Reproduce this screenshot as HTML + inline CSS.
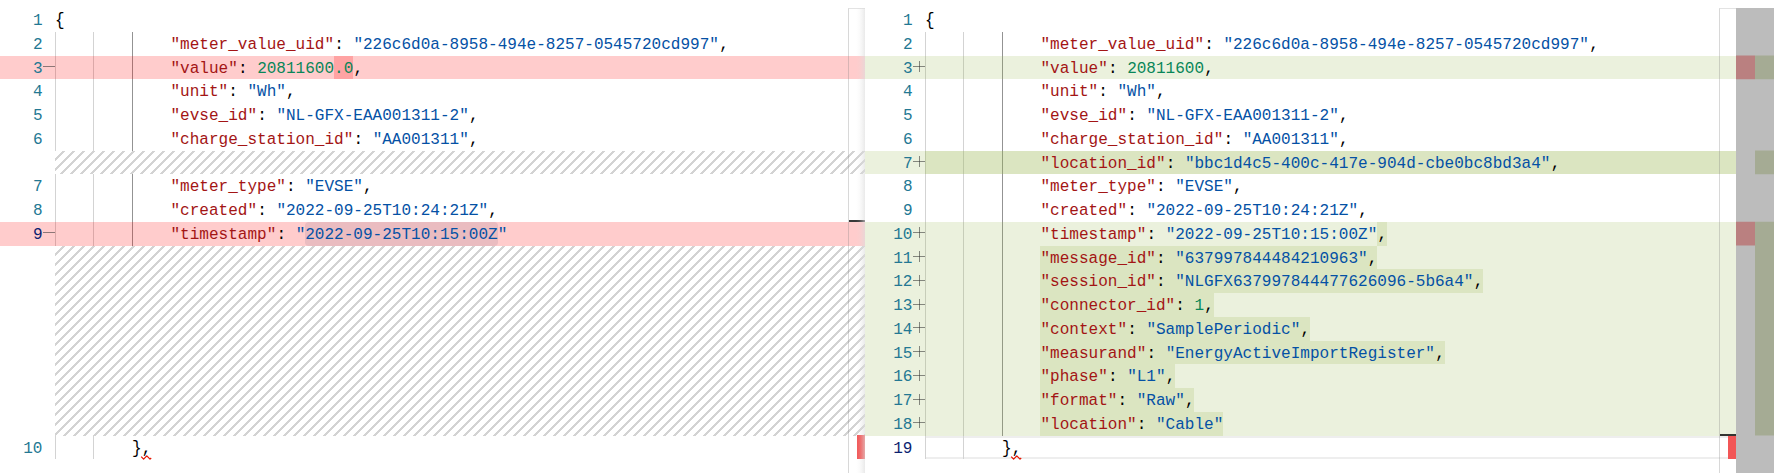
<!DOCTYPE html>
<html lang="en">
<head>
<meta charset="utf-8">
<title>Diff: meter value JSON</title>
<style>
html,body{margin:0;padding:0;background:#fff;}
body{width:1788px;height:473px;overflow:hidden;position:relative;font-family:"Liberation Mono","DejaVu Sans Mono",monospace;font-size:16.04px;line-height:23.75px;color:#000;}
.pane{position:absolute;top:0;height:473px;overflow:hidden;}
.bg{position:absolute;left:0;right:0;height:23.75px;}
.bg.del,.cdel{background:rgba(255,0,0,.2);}
.bg.ins,.cins{background:rgba(155,185,85,.2);}
.hatch{position:absolute;display:block;}
.cdel,.cins,.sel{position:absolute;height:23.75px;}
.sel{background:#e5ebf1;border-radius:4px;}
.guide{position:absolute;width:1px;height:23.75px;background:#d3d3d3;}
.guide.act{background:#939393;}
.ln{position:absolute;left:0;width:42.5px;text-align:right;color:#237893;height:23.75px;white-space:pre;margin-top:2px;transform-origin:0 15px;transform:scaleY(1.06);}
.ln.cur{color:#0b216f;}
.sign{position:absolute;left:43px;width:12px;height:23.75px;}
.sign .h{position:absolute;left:0;top:10.5px;width:12px;height:1px;background:rgba(50,50,50,.56);}
.sign .v{position:absolute;left:5.5px;top:5.5px;width:1px;height:11px;background:rgba(50,50,50,.56);}
.t{position:absolute;white-space:pre;height:23.75px;margin-top:2px;transform-origin:0 15px;transform:scaleY(1.06);}
.ovl,.ovr{position:absolute;top:8px;width:17px;height:465px;box-sizing:border-box;border-left:1px solid rgba(127,127,127,.3);border-top:1px solid rgba(127,127,127,.22);}
.ovl{left:848px;}
.ovr{left:1719px;}
.shadow{position:absolute;left:856px;top:8px;width:9px;height:465px;background:linear-gradient(90deg,rgba(221,221,221,0),rgba(221,221,221,.1) 35%,rgba(221,221,221,.3) 65%,rgba(221,221,221,.62));}
.cursor{position:absolute;height:2px;background:rgba(0,0,0,.78);}
.err{position:absolute;width:8px;height:24px;background:#f25656;}
.dov{position:absolute;display:block;left:1736px;top:8px;width:38px;height:465px;background:#bcbcbc;}
.dov .r{fill:#ba8080;}
.dov .g{fill:#a5ab94;}
.curline{position:absolute;box-sizing:border-box;border-top:2.5px solid #eee;border-bottom:2.5px solid #eee;}
.sq{position:absolute;overflow:visible;}
.t.b{transform-origin:0 10.5px;transform:translateY(-.8px) scaleY(1.2);}
.k{color:#a31515;}
.s{color:#0451a5;}
.n{color:#098658;}
.p{color:#000;}
</style>
</head>
<body>
<div class="pane left" style="left:0;width:865px">
<div class="sel" style="left:305.25px;top:221.75px;width:192.5px;"></div>
<div class="guide" style="left:55px;top:31.75px"></div>
<div class="guide" style="left:93px;top:31.75px"></div>
<div class="guide act" style="left:132px;top:31.75px"></div>
<div class="guide" style="left:55px;top:55.5px"></div>
<div class="guide" style="left:93px;top:55.5px"></div>
<div class="guide act" style="left:132px;top:55.5px"></div>
<div class="guide" style="left:55px;top:79.25px"></div>
<div class="guide" style="left:93px;top:79.25px"></div>
<div class="guide act" style="left:132px;top:79.25px"></div>
<div class="guide" style="left:55px;top:103px"></div>
<div class="guide" style="left:93px;top:103px"></div>
<div class="guide act" style="left:132px;top:103px"></div>
<div class="guide" style="left:55px;top:126.75px"></div>
<div class="guide" style="left:93px;top:126.75px"></div>
<div class="guide act" style="left:132px;top:126.75px"></div>
<div class="guide" style="left:55px;top:174.25px"></div>
<div class="guide" style="left:93px;top:174.25px"></div>
<div class="guide act" style="left:132px;top:174.25px"></div>
<div class="guide" style="left:55px;top:198px"></div>
<div class="guide" style="left:93px;top:198px"></div>
<div class="guide act" style="left:132px;top:198px"></div>
<div class="guide" style="left:55px;top:221.75px"></div>
<div class="guide" style="left:93px;top:221.75px"></div>
<div class="guide act" style="left:132px;top:221.75px"></div>
<div class="guide" style="left:55px;top:435.5px"></div>
<div class="guide" style="left:93px;top:435.5px"></div>
<div class="bg del" style="top:55.5px"></div>
<div class="bg del" style="top:221.75px"></div>
<div class="cdel" style="left:334.125px;top:55.5px;width:19.25px;"></div>
<svg class="hatch" style="left:55px;top:151px" width="810" height="23"><defs><pattern id="hpl6" width="10" height="10" patternUnits="userSpaceOnUse"><path d="M-1.25 10L10 -1.25M3.75 15L15 3.75" stroke="#222" stroke-opacity=".2" stroke-width="2.2" fill="none" shape-rendering="crispEdges"/></pattern></defs><rect width="100%" height="100%" fill="url(#hpl6)"/></svg>
<svg class="hatch" style="left:55px;top:246px" width="810" height="190"><defs><pattern id="hpl10" width="10" height="10" patternUnits="userSpaceOnUse"><path d="M-1.25 10L10 -1.25M3.75 15L15 3.75" stroke="#222" stroke-opacity=".2" stroke-width="2.2" fill="none" shape-rendering="crispEdges"/></pattern></defs><rect width="100%" height="100%" fill="url(#hpl10)"/></svg>
<div class="ln" style="top:8px">1</div>
<span class="t p b" style="left:55px;top:8px">{</span>
<div class="ln" style="top:31.75px">2</div>
<span class="t k" style="left:170.5px;top:31.75px">"meter_value_uid"</span><span class="t p" style="left:334.125px;top:31.75px">:&nbsp;</span><span class="t s" style="left:353.375px;top:31.75px">"226c6d0a-8958-494e-8257-0545720cd997"</span><span class="t p" style="left:719.125px;top:31.75px">,</span>
<div class="ln" style="top:55.5px">3</div>
<div class="sign" style="top:55.5px"><i class="h"></i></div>
<span class="t k" style="left:170.5px;top:55.5px">"value"</span><span class="t p" style="left:237.875px;top:55.5px">:&nbsp;</span><span class="t n" style="left:257.125px;top:55.5px">20811600.0</span><span class="t p" style="left:353.375px;top:55.5px">,</span>
<div class="ln" style="top:79.25px">4</div>
<span class="t k" style="left:170.5px;top:79.25px">"unit"</span><span class="t p" style="left:228.25px;top:79.25px">:&nbsp;</span><span class="t s" style="left:247.5px;top:79.25px">"Wh"</span><span class="t p" style="left:286px;top:79.25px">,</span>
<div class="ln" style="top:103px">5</div>
<span class="t k" style="left:170.5px;top:103px">"evse_id"</span><span class="t p" style="left:257.125px;top:103px">:&nbsp;</span><span class="t s" style="left:276.375px;top:103px">"NL-GFX-EAA001311-2"</span><span class="t p" style="left:468.875px;top:103px">,</span>
<div class="ln" style="top:126.75px">6</div>
<span class="t k" style="left:170.5px;top:126.75px">"charge_station_id"</span><span class="t p" style="left:353.375px;top:126.75px">:&nbsp;</span><span class="t s" style="left:372.625px;top:126.75px">"AA001311"</span><span class="t p" style="left:468.875px;top:126.75px">,</span>
<div class="ln" style="top:174.25px">7</div>
<span class="t k" style="left:170.5px;top:174.25px">"meter_type"</span><span class="t p" style="left:286px;top:174.25px">:&nbsp;</span><span class="t s" style="left:305.25px;top:174.25px">"EVSE"</span><span class="t p" style="left:363px;top:174.25px">,</span>
<div class="ln" style="top:198px">8</div>
<span class="t k" style="left:170.5px;top:198px">"created"</span><span class="t p" style="left:257.125px;top:198px">:&nbsp;</span><span class="t s" style="left:276.375px;top:198px">"2022-09-25T10:24:21Z"</span><span class="t p" style="left:488.125px;top:198px">,</span>
<div class="ln cur" style="top:221.75px">9</div>
<div class="sign" style="top:221.75px"><i class="h"></i></div>
<span class="t k" style="left:170.5px;top:221.75px">"timestamp"</span><span class="t p" style="left:276.375px;top:221.75px">:&nbsp;</span><span class="t s" style="left:295.625px;top:221.75px">"2022-09-25T10:15:00Z"</span>
<div class="ln" style="top:435.5px">10</div>
<span class="t p b" style="left:132px;top:435.5px">}</span><span class="t p" style="left:141.625px;top:435.5px">,</span>
</div>
<div class="ovl"></div>
<div class="err" style="left:857px;top:435px"></div>
<div class="cursor" style="left:849px;top:220px;width:16px"></div>
<div class="shadow"></div>
<div class="pane right" style="left:865px;width:871px">
<div class="curline" style="left:60px;top:435.5px;width:811px;height:23.75px"></div>
<div class="guide" style="left:60px;top:31.75px"></div>
<div class="guide" style="left:98px;top:31.75px"></div>
<div class="guide act" style="left:137px;top:31.75px"></div>
<div class="guide" style="left:60px;top:55.5px"></div>
<div class="guide" style="left:98px;top:55.5px"></div>
<div class="guide act" style="left:137px;top:55.5px"></div>
<div class="guide" style="left:60px;top:79.25px"></div>
<div class="guide" style="left:98px;top:79.25px"></div>
<div class="guide act" style="left:137px;top:79.25px"></div>
<div class="guide" style="left:60px;top:103px"></div>
<div class="guide" style="left:98px;top:103px"></div>
<div class="guide act" style="left:137px;top:103px"></div>
<div class="guide" style="left:60px;top:126.75px"></div>
<div class="guide" style="left:98px;top:126.75px"></div>
<div class="guide act" style="left:137px;top:126.75px"></div>
<div class="guide" style="left:60px;top:150.5px"></div>
<div class="guide" style="left:98px;top:150.5px"></div>
<div class="guide act" style="left:137px;top:150.5px"></div>
<div class="guide" style="left:60px;top:174.25px"></div>
<div class="guide" style="left:98px;top:174.25px"></div>
<div class="guide act" style="left:137px;top:174.25px"></div>
<div class="guide" style="left:60px;top:198px"></div>
<div class="guide" style="left:98px;top:198px"></div>
<div class="guide act" style="left:137px;top:198px"></div>
<div class="guide" style="left:60px;top:221.75px"></div>
<div class="guide" style="left:98px;top:221.75px"></div>
<div class="guide act" style="left:137px;top:221.75px"></div>
<div class="guide" style="left:60px;top:245.5px"></div>
<div class="guide" style="left:98px;top:245.5px"></div>
<div class="guide act" style="left:137px;top:245.5px"></div>
<div class="guide" style="left:60px;top:269.25px"></div>
<div class="guide" style="left:98px;top:269.25px"></div>
<div class="guide act" style="left:137px;top:269.25px"></div>
<div class="guide" style="left:60px;top:293px"></div>
<div class="guide" style="left:98px;top:293px"></div>
<div class="guide act" style="left:137px;top:293px"></div>
<div class="guide" style="left:60px;top:316.75px"></div>
<div class="guide" style="left:98px;top:316.75px"></div>
<div class="guide act" style="left:137px;top:316.75px"></div>
<div class="guide" style="left:60px;top:340.5px"></div>
<div class="guide" style="left:98px;top:340.5px"></div>
<div class="guide act" style="left:137px;top:340.5px"></div>
<div class="guide" style="left:60px;top:364.25px"></div>
<div class="guide" style="left:98px;top:364.25px"></div>
<div class="guide act" style="left:137px;top:364.25px"></div>
<div class="guide" style="left:60px;top:388px"></div>
<div class="guide" style="left:98px;top:388px"></div>
<div class="guide act" style="left:137px;top:388px"></div>
<div class="guide" style="left:60px;top:411.75px"></div>
<div class="guide" style="left:98px;top:411.75px"></div>
<div class="guide act" style="left:137px;top:411.75px"></div>
<div class="guide" style="left:60px;top:435.5px"></div>
<div class="guide" style="left:98px;top:435.5px"></div>
<div class="bg ins" style="top:55.5px"></div>
<div class="bg ins" style="top:150.5px"></div>
<div class="bg ins" style="top:221.75px"></div>
<div class="bg ins" style="top:245.5px"></div>
<div class="bg ins" style="top:269.25px"></div>
<div class="bg ins" style="top:293px"></div>
<div class="bg ins" style="top:316.75px"></div>
<div class="bg ins" style="top:340.5px"></div>
<div class="bg ins" style="top:364.25px"></div>
<div class="bg ins" style="top:388px"></div>
<div class="bg ins" style="top:411.75px"></div>
<div class="cins" style="left:60px;top:150.5px;width:811px;"></div>
<div class="cins" style="left:512.375px;top:221.75px;width:9.625px;"></div>
<div class="cins" style="left:174.9px;top:245.5px;width:337.475px;"></div>
<div class="cins" style="left:174.9px;top:269.25px;width:443.35px;"></div>
<div class="cins" style="left:174.9px;top:293px;width:173.85px;"></div>
<div class="cins" style="left:174.9px;top:316.75px;width:270.1px;"></div>
<div class="cins" style="left:174.9px;top:340.5px;width:404.85px;"></div>
<div class="cins" style="left:174.9px;top:364.25px;width:135.35px;"></div>
<div class="cins" style="left:174.9px;top:388px;width:154.6px;"></div>
<div class="cins" style="left:174.9px;top:411.75px;width:183.475px;"></div>
</div>
<div class="pane rtext" style="left:870px;width:866px">
<div class="ln" style="top:8px">1</div>
<span class="t p b" style="left:55px;top:8px">{</span>
<div class="ln" style="top:31.75px">2</div>
<span class="t k" style="left:170.5px;top:31.75px">"meter_value_uid"</span><span class="t p" style="left:334.125px;top:31.75px">:&nbsp;</span><span class="t s" style="left:353.375px;top:31.75px">"226c6d0a-8958-494e-8257-0545720cd997"</span><span class="t p" style="left:719.125px;top:31.75px">,</span>
<div class="ln" style="top:55.5px">3</div>
<div class="sign" style="top:55.5px"><i class="h"></i><i class="v"></i></div>
<span class="t k" style="left:170.5px;top:55.5px">"value"</span><span class="t p" style="left:237.875px;top:55.5px">:&nbsp;</span><span class="t n" style="left:257.125px;top:55.5px">20811600</span><span class="t p" style="left:334.125px;top:55.5px">,</span>
<div class="ln" style="top:79.25px">4</div>
<span class="t k" style="left:170.5px;top:79.25px">"unit"</span><span class="t p" style="left:228.25px;top:79.25px">:&nbsp;</span><span class="t s" style="left:247.5px;top:79.25px">"Wh"</span><span class="t p" style="left:286px;top:79.25px">,</span>
<div class="ln" style="top:103px">5</div>
<span class="t k" style="left:170.5px;top:103px">"evse_id"</span><span class="t p" style="left:257.125px;top:103px">:&nbsp;</span><span class="t s" style="left:276.375px;top:103px">"NL-GFX-EAA001311-2"</span><span class="t p" style="left:468.875px;top:103px">,</span>
<div class="ln" style="top:126.75px">6</div>
<span class="t k" style="left:170.5px;top:126.75px">"charge_station_id"</span><span class="t p" style="left:353.375px;top:126.75px">:&nbsp;</span><span class="t s" style="left:372.625px;top:126.75px">"AA001311"</span><span class="t p" style="left:468.875px;top:126.75px">,</span>
<div class="ln" style="top:150.5px">7</div>
<div class="sign" style="top:150.5px"><i class="h"></i><i class="v"></i></div>
<span class="t k" style="left:170.5px;top:150.5px">"location_id"</span><span class="t p" style="left:295.625px;top:150.5px">:&nbsp;</span><span class="t s" style="left:314.875px;top:150.5px">"bbc1d4c5-400c-417e-904d-cbe0bc8bd3a4"</span><span class="t p" style="left:680.625px;top:150.5px">,</span>
<div class="ln" style="top:174.25px">8</div>
<span class="t k" style="left:170.5px;top:174.25px">"meter_type"</span><span class="t p" style="left:286px;top:174.25px">:&nbsp;</span><span class="t s" style="left:305.25px;top:174.25px">"EVSE"</span><span class="t p" style="left:363px;top:174.25px">,</span>
<div class="ln" style="top:198px">9</div>
<span class="t k" style="left:170.5px;top:198px">"created"</span><span class="t p" style="left:257.125px;top:198px">:&nbsp;</span><span class="t s" style="left:276.375px;top:198px">"2022-09-25T10:24:21Z"</span><span class="t p" style="left:488.125px;top:198px">,</span>
<div class="ln" style="top:221.75px">10</div>
<div class="sign" style="top:221.75px"><i class="h"></i><i class="v"></i></div>
<span class="t k" style="left:170.5px;top:221.75px">"timestamp"</span><span class="t p" style="left:276.375px;top:221.75px">:&nbsp;</span><span class="t s" style="left:295.625px;top:221.75px">"2022-09-25T10:15:00Z"</span><span class="t p" style="left:507.375px;top:221.75px">,</span>
<div class="ln" style="top:245.5px">11</div>
<div class="sign" style="top:245.5px"><i class="h"></i><i class="v"></i></div>
<span class="t k" style="left:170.5px;top:245.5px">"message_id"</span><span class="t p" style="left:286px;top:245.5px">:&nbsp;</span><span class="t s" style="left:305.25px;top:245.5px">"637997844484210963"</span><span class="t p" style="left:497.75px;top:245.5px">,</span>
<div class="ln" style="top:269.25px">12</div>
<div class="sign" style="top:269.25px"><i class="h"></i><i class="v"></i></div>
<span class="t k" style="left:170.5px;top:269.25px">"session_id"</span><span class="t p" style="left:286px;top:269.25px">:&nbsp;</span><span class="t s" style="left:305.25px;top:269.25px">"NLGFX637997844477626096-5b6a4"</span><span class="t p" style="left:603.625px;top:269.25px">,</span>
<div class="ln" style="top:293px">13</div>
<div class="sign" style="top:293px"><i class="h"></i><i class="v"></i></div>
<span class="t k" style="left:170.5px;top:293px">"connector_id"</span><span class="t p" style="left:305.25px;top:293px">:&nbsp;</span><span class="t n" style="left:324.5px;top:293px">1</span><span class="t p" style="left:334.125px;top:293px">,</span>
<div class="ln" style="top:316.75px">14</div>
<div class="sign" style="top:316.75px"><i class="h"></i><i class="v"></i></div>
<span class="t k" style="left:170.5px;top:316.75px">"context"</span><span class="t p" style="left:257.125px;top:316.75px">:&nbsp;</span><span class="t s" style="left:276.375px;top:316.75px">"SamplePeriodic"</span><span class="t p" style="left:430.375px;top:316.75px">,</span>
<div class="ln" style="top:340.5px">15</div>
<div class="sign" style="top:340.5px"><i class="h"></i><i class="v"></i></div>
<span class="t k" style="left:170.5px;top:340.5px">"measurand"</span><span class="t p" style="left:276.375px;top:340.5px">:&nbsp;</span><span class="t s" style="left:295.625px;top:340.5px">"EnergyActiveImportRegister"</span><span class="t p" style="left:565.125px;top:340.5px">,</span>
<div class="ln" style="top:364.25px">16</div>
<div class="sign" style="top:364.25px"><i class="h"></i><i class="v"></i></div>
<span class="t k" style="left:170.5px;top:364.25px">"phase"</span><span class="t p" style="left:237.875px;top:364.25px">:&nbsp;</span><span class="t s" style="left:257.125px;top:364.25px">"L1"</span><span class="t p" style="left:295.625px;top:364.25px">,</span>
<div class="ln" style="top:388px">17</div>
<div class="sign" style="top:388px"><i class="h"></i><i class="v"></i></div>
<span class="t k" style="left:170.5px;top:388px">"format"</span><span class="t p" style="left:247.5px;top:388px">:&nbsp;</span><span class="t s" style="left:266.75px;top:388px">"Raw"</span><span class="t p" style="left:314.875px;top:388px">,</span>
<div class="ln" style="top:411.75px">18</div>
<div class="sign" style="top:411.75px"><i class="h"></i><i class="v"></i></div>
<span class="t k" style="left:170.5px;top:411.75px">"location"</span><span class="t p" style="left:266.75px;top:411.75px">:&nbsp;</span><span class="t s" style="left:286px;top:411.75px">"Cable"</span>
<div class="ln cur" style="top:435.5px">19</div>
<span class="t p b" style="left:132px;top:435.5px">}</span><span class="t p" style="left:141.625px;top:435.5px">,</span>
</div>
<svg class="sq" style="left:141px;top:454.5px" width="11" height="5" viewBox="0 0 11 5"><path d="M0.2 1.6 L2.6 4.1 L5.8 0.9 L9 4.1 L10.2 3" fill="none" stroke="#e51400" stroke-width="1.25" stroke-linejoin="round"/></svg>
<svg class="sq" style="left:1011px;top:454.5px" width="11" height="5" viewBox="0 0 11 5"><path d="M0.2 1.6 L2.6 4.1 L5.8 0.9 L9 4.1 L10.2 3" fill="none" stroke="#e51400" stroke-width="1.25" stroke-linejoin="round"/></svg>
<div class="ovr"></div>
<div class="err" style="left:1728px;top:436px;height:23px"></div>
<div class="cursor" style="left:1720px;top:434px;width:16px"></div>
<svg class="dov" width="38" height="465"><rect class="r" x="0" y="47.5" width="19" height="23.75"/><rect class="g" x="19" y="47.5" width="19" height="23.75"/><rect class="g" x="19" y="142.5" width="19" height="23.75"/><rect class="r" x="0" y="213.75" width="19" height="23.75"/><rect class="g" x="19" y="213.75" width="19" height="213.75"/></svg>
</body>
</html>
